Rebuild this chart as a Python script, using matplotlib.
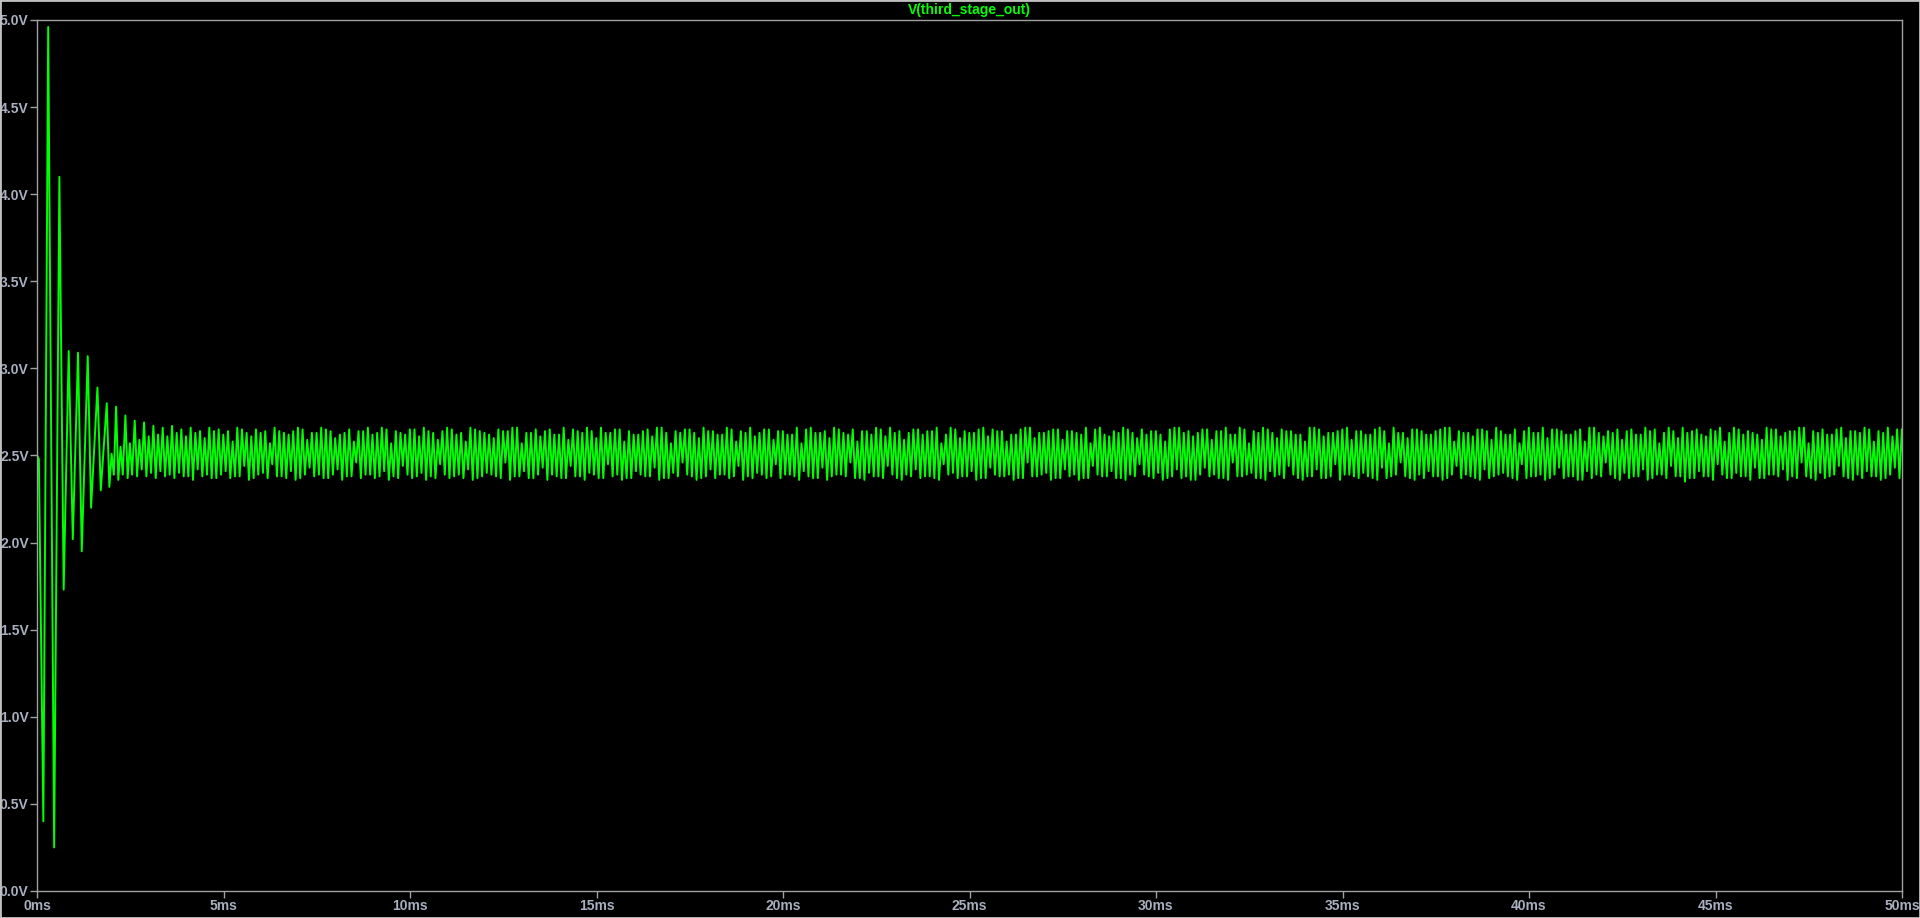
import numpy as np
import matplotlib.pyplot as plt
from matplotlib.patches import Rectangle

# start-up transient, points (ms, V)
t_start = [0.0, 0.05, 0.17, 0.30, 0.46, 0.60, 0.715, 0.85, 0.96, 1.10, 1.20,
           1.36, 1.45, 1.62, 1.71, 1.87, 1.94, 2.00, 2.06, 2.12, 2.18,
           2.24, 2.30, 2.37, 2.43, 2.49, 2.55]
v_start = [2.50, 2.48, 0.40, 4.96, 0.25, 4.10, 1.73, 3.10, 2.02, 3.09, 1.95,
           3.07, 2.20, 2.89, 2.30, 2.80, 2.32, 2.51, 2.39, 2.78, 2.36,
           2.55, 2.39, 2.73, 2.37, 2.57, 2.39]

# steady state: two ripple cycles per 0.25 ms block, four stored points per block
block_ms = 0.25
t_ss0 = 2.62
hi_a = [
    2.70, 2.69, 2.67, 2.66, 2.67, 2.65, 2.66, 2.64, 2.66, 2.65,
    2.64, 2.66, 2.63, 2.65, 2.64, 2.66, 2.63, 2.64, 2.65, 2.63,
    2.66, 2.64, 2.62, 2.65, 2.64, 2.66, 2.63, 2.65, 2.64, 2.62,
    2.65, 2.66, 2.63, 2.64, 2.65, 2.63, 2.66, 2.64, 2.62, 2.65,
    2.64, 2.66, 2.63, 2.65, 2.64, 2.62, 2.66, 2.65, 2.63, 2.64,
    2.66, 2.63, 2.65, 2.64, 2.62, 2.65, 2.66, 2.63, 2.64, 2.65,
    2.63, 2.66, 2.64, 2.62, 2.65, 2.64, 2.66, 2.63, 2.65, 2.64,
    2.62, 2.66, 2.65, 2.63, 2.64, 2.66, 2.63, 2.65, 2.64, 2.62,
    2.65, 2.66, 2.64, 2.63, 2.65, 2.64, 2.66, 2.62, 2.65, 2.64,
    2.63, 2.66, 2.65, 2.64, 2.62, 2.65, 2.66, 2.63, 2.64, 2.65,
    2.64, 2.63, 2.66, 2.65, 2.62, 2.64, 2.66, 2.63, 2.65, 2.64,
    2.62, 2.65, 2.66, 2.64, 2.63, 2.65, 2.64, 2.66, 2.62, 2.65,
    2.64, 2.66, 2.63, 2.65, 2.64, 2.62, 2.66, 2.65, 2.63, 2.64,
    2.66, 2.64, 2.62, 2.65, 2.64, 2.66, 2.63, 2.65, 2.64, 2.62,
    2.65, 2.66, 2.64, 2.63, 2.65, 2.64, 2.66, 2.62, 2.65, 2.64,
    2.63, 2.66, 2.65, 2.64, 2.62, 2.65, 2.66, 2.63, 2.64, 2.65,
    2.64, 2.62, 2.66, 2.65, 2.63, 2.64, 2.66, 2.64, 2.62, 2.65,
    2.66, 2.63, 2.65, 2.64, 2.62, 2.66, 2.65, 2.63, 2.64, 2.66,
    2.64, 2.65, 2.62, 2.66, 2.64, 2.63, 2.65, 2.64, 2.66, 2.65,
]
lo_a = [
    2.38, 2.38, 2.37, 2.38, 2.37, 2.38, 2.36, 2.38, 2.37, 2.39,
    2.37, 2.38, 2.36, 2.39, 2.37, 2.38, 2.37, 2.36, 2.39, 2.38,
    2.37, 2.39, 2.36, 2.38, 2.37, 2.39, 2.38, 2.36, 2.37, 2.39,
    2.38, 2.36, 2.37, 2.39, 2.38, 2.37, 2.36, 2.38, 2.39, 2.37,
    2.36, 2.38, 2.37, 2.39, 2.36, 2.38, 2.37, 2.38, 2.36, 2.39,
    2.37, 2.38, 2.36, 2.37, 2.39, 2.38, 2.36, 2.37, 2.38, 2.39,
    2.36, 2.38, 2.37, 2.39, 2.38, 2.36, 2.37, 2.39, 2.38, 2.37,
    2.39, 2.36, 2.38, 2.37, 2.36, 2.39, 2.38, 2.37, 2.36, 2.38,
    2.37, 2.39, 2.36, 2.38, 2.37, 2.38, 2.36, 2.39, 2.37, 2.38,
    2.36, 2.37, 2.39, 2.38, 2.36, 2.37, 2.38, 2.39, 2.36, 2.37,
    2.38, 2.36, 2.37, 2.39, 2.38, 2.37, 2.36, 2.38, 2.39, 2.37,
    2.36, 2.38, 2.37, 2.36, 2.39, 2.38, 2.37, 2.36, 2.38, 2.39,
    2.37, 2.36, 2.38, 2.37, 2.39, 2.36, 2.38, 2.37, 2.38, 2.36,
    2.39, 2.37, 2.38, 2.36, 2.37, 2.39, 2.38, 2.36, 2.37, 2.38,
    2.36, 2.39, 2.37, 2.38, 2.36, 2.37, 2.39, 2.38, 2.36, 2.37,
    2.38, 2.36, 2.39, 2.37, 2.38, 2.36, 2.37, 2.38, 2.39, 2.36,
    2.37, 2.38, 2.36, 2.39, 2.37, 2.38, 2.35, 2.37, 2.38, 2.36,
    2.39, 2.37, 2.38, 2.36, 2.37, 2.39, 2.38, 2.36, 2.37, 2.38,
    2.36, 2.37, 2.39, 2.38, 2.36, 2.37, 2.38, 2.36, 2.39, 2.37,
]
hi_b = [
    2.59, 2.61, 2.62, 2.61, 2.63, 2.61, 2.63, 2.60, 2.64, 2.62,
    2.58, 2.65, 2.61, 2.63, 2.57, 2.64, 2.62, 2.66, 2.59, 2.63,
    2.65, 2.60, 2.63, 2.58, 2.64, 2.62, 2.66, 2.57, 2.63, 2.65,
    2.61, 2.64, 2.59, 2.66, 2.62, 2.58, 2.65, 2.63, 2.60, 2.64,
    2.66, 2.57, 2.63, 2.61, 2.65, 2.62, 2.59, 2.64, 2.66, 2.60,
    2.63, 2.65, 2.58, 2.62, 2.64, 2.61, 2.66, 2.57, 2.63, 2.65,
    2.60, 2.64, 2.62, 2.66, 2.58, 2.63, 2.61, 2.65, 2.59, 2.64,
    2.62, 2.57, 2.66, 2.63, 2.60, 2.65, 2.62, 2.58, 2.64, 2.66,
    2.61, 2.63, 2.59, 2.65, 2.62, 2.64, 2.57, 2.66, 2.60, 2.63,
    2.65, 2.61, 2.64, 2.58, 2.62, 2.66, 2.60, 2.63, 2.65, 2.59,
    2.64, 2.62, 2.57, 2.66, 2.61, 2.63, 2.65, 2.60, 2.62, 2.64,
    2.58, 2.66, 2.63, 2.61, 2.65, 2.59, 2.64, 2.62, 2.66, 2.57,
    2.63, 2.65, 2.60, 2.64, 2.62, 2.58, 2.66, 2.61, 2.63, 2.65,
    2.59, 2.64, 2.62, 2.66, 2.57, 2.63, 2.60, 2.65, 2.62, 2.64,
    2.66, 2.58, 2.63, 2.61, 2.65, 2.59, 2.64, 2.62, 2.57, 2.66,
    2.63, 2.60, 2.65, 2.62, 2.64, 2.58, 2.66, 2.61, 2.63, 2.59,
    2.65, 2.62, 2.64, 2.57, 2.66, 2.60, 2.63, 2.65, 2.61, 2.64,
    2.58, 2.66, 2.62, 2.63, 2.59, 2.65, 2.61, 2.64, 2.66, 2.57,
    2.63, 2.62, 2.65, 2.60, 2.64, 2.66, 2.58, 2.63, 2.61, 2.65,
]
lo_b = [
    2.42, 2.40, 2.41, 2.39, 2.40, 2.38, 2.42, 2.39, 2.37, 2.41,
    2.38, 2.44, 2.37, 2.40, 2.45, 2.38, 2.41, 2.37, 2.43, 2.39,
    2.37, 2.42, 2.38, 2.46, 2.39, 2.37, 2.41, 2.38, 2.44, 2.37,
    2.40, 2.38, 2.45, 2.37, 2.39, 2.42, 2.37, 2.40, 2.38, 2.46,
    2.38, 2.41, 2.37, 2.43, 2.39, 2.37, 2.44, 2.38, 2.40, 2.37,
    2.45, 2.39, 2.37, 2.41, 2.38, 2.43, 2.37, 2.40, 2.46, 2.38,
    2.37, 2.42, 2.39, 2.37, 2.44, 2.38, 2.40, 2.37, 2.45, 2.39,
    2.38, 2.41, 2.37, 2.43, 2.38, 2.39, 2.46, 2.37, 2.40, 2.38,
    2.44, 2.37, 2.39, 2.42, 2.38, 2.37, 2.45, 2.40, 2.38, 2.41,
    2.37, 2.43, 2.38, 2.39, 2.37, 2.46, 2.38, 2.40, 2.37, 2.42,
    2.39, 2.37, 2.44, 2.38, 2.41, 2.37, 2.39, 2.45, 2.38, 2.40,
    2.37, 2.42, 2.38, 2.36, 2.43, 2.39, 2.37, 2.46, 2.38, 2.40,
    2.37, 2.41, 2.39, 2.44, 2.37, 2.38, 2.42, 2.37, 2.45, 2.39,
    2.38, 2.40, 2.37, 2.43, 2.38, 2.46, 2.37, 2.39, 2.41, 2.38,
    2.37, 2.44, 2.39, 2.37, 2.42, 2.38, 2.40, 2.37, 2.45, 2.38,
    2.39, 2.37, 2.43, 2.38, 2.36, 2.41, 2.39, 2.46, 2.37, 2.40,
    2.38, 2.42, 2.37, 2.39, 2.44, 2.38, 2.37, 2.41, 2.38, 2.45,
    2.37, 2.40, 2.38, 2.43, 2.37, 2.39, 2.42, 2.38, 2.46, 2.37,
    2.40, 2.38, 2.44, 2.37, 2.39, 2.41, 2.38, 2.37, 2.43, 2.38,
]

y_ticks = [0.0, 0.5, 1.0, 1.5, 2.0, 2.5, 3.0, 3.5, 4.0, 4.5, 5.0]
x_ticks = [0, 5, 10, 15, 20, 25, 30, 35, 40, 45, 50]

# four stored points per block, at quarter-block spacing
n = len(hi_a)
t_blk = t_ss0 + block_ms * np.arange(n)
q = block_ms / 4
t_ss = np.column_stack([t_blk, t_blk + q, t_blk + 2 * q, t_blk + 3 * q]).ravel()
v_ss = np.column_stack([hi_a, lo_a, hi_b, lo_b]).ravel()

t = np.concatenate([t_start, t_ss])
v = np.concatenate([v_start, v_ss])

W, H = 1920, 918
fig = plt.figure(figsize=(W / 100, H / 100), dpi=100, facecolor='black')
ax = fig.add_axes([37 / W, (H - 891) / H, (1902 - 37) / W, (891 - 20) / H])
ax.set_facecolor('black')

ax.plot(t, v, color='#00ff00', lw=1.4)

grey = '#a0a0a0'
lab = '#a8b0c0'
ax.set_xlim(0, 50)
ax.set_ylim(0, 5)
ax.set_xticks(x_ticks)
ax.set_xticklabels([f"{x}ms" for x in x_ticks])
ax.set_yticks(y_ticks)
ax.set_yticklabels([f"{y:.1f}V" for y in y_ticks])
for s in ax.spines.values():
    s.set_color(grey)
    s.set_linewidth(1.0)
ax.tick_params(colors=grey, length=5, width=1, pad=1)
for lbl in ax.get_xticklabels() + ax.get_yticklabels():
    lbl.set_color(lab)
    lbl.set_fontfamily('Liberation Sans')
    lbl.set_fontweight('bold')
    lbl.set_fontsize(10)

ax.set_title("V(third_stage_out)", color='#00ff00', fontfamily='Liberation Sans',
             fontweight='bold', fontsize=10, pad=4)

# window border
fig.patches.append(Rectangle((0, 0), 1, 1, transform=fig.transFigure,
                             fill=False, edgecolor='#c0c0c0', lw=2))

fig.savefig('out.png', dpi=100, facecolor='black')
